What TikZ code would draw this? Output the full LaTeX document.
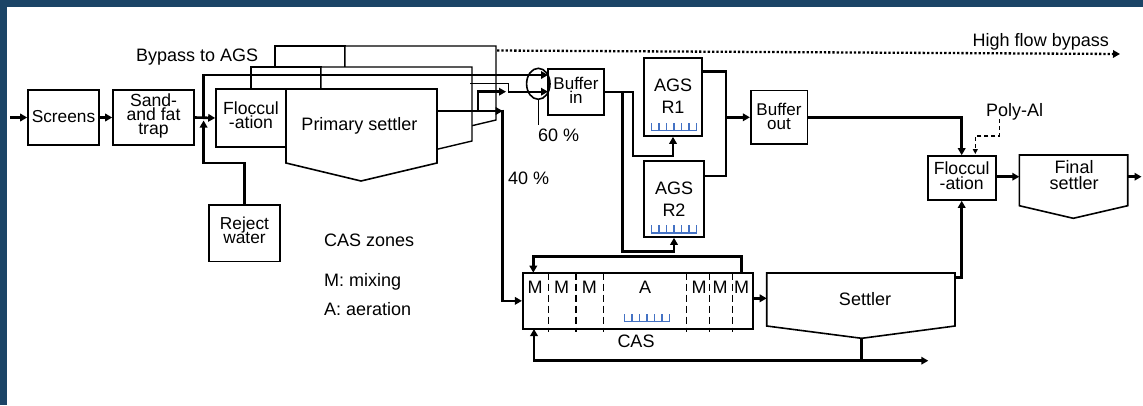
\documentclass[tikz,border=0pt]{standalone}
\usepackage{fontspec}
\setmainfont{Liberation Sans}
\usetikzlibrary{arrows.meta,shapes.geometric}
\definecolor{framecol}{HTML}{1B4466}
\definecolor{aerblue}{HTML}{4472C4}
\newcommand\mybfont[2]{\fontsize{#1}{#2}\selectfont\lineskiplimit=-40pt\relax}
\begin{document}
\begin{tikzpicture}[x=1pt,y=-1pt,
  box/.style={draw, line width=1.6pt, fill=white, inner sep=0pt},
  unit/.style={draw, line width=1.6pt, fill=white},
  back/.style={draw, line width=1.4pt, fill=white},
  flow/.style={line width=2.6pt},
  thinflow/.style={line width=1.6pt},
  lab/.style={font=\fontsize{18}{21}\selectfont, inner sep=0pt},
  blab/.style={inner sep=0pt, align=center},
  aerline/.style={draw=aerblue, line width=1.5pt},
  aer/.pic={\draw[aerline] (0,0) -- (45,0);
            \foreach \k in {0,...,6} \draw[aerline] (\k*7.5,0.7) -- (\k*7.5,-7.5);},
  >={Triangle[length=7pt,width=7.5pt]}
]
\useasboundingbox (0,0) rectangle (1143,405);
\fill[white] (0,0) rectangle (1143,405);
\fill[framecol] (0,0) rectangle (1143,7);
\fill[framecol] (0,0) rectangle (7,405);

% stacked parallel lines (back units)
\begin{scope}[shift={(59,-43)}]
  \draw[back] (216,89) rectangle (286,147);
  \draw[back] (286,89) -- (437,89) -- (437,163) -- (361,181) -- (286,163) -- cycle;
\end{scope}
\begin{scope}[shift={(35,-22)}]
  \draw[back] (216,89) rectangle (286,147);
  \draw[back] (286,89) -- (437,89) -- (437,163) -- (361,181) -- (286,163) -- cycle;
\end{scope}

% front unit
\draw[unit] (286,89) coordinate (psnw) -- (437,89) coordinate (psne) -- (437,163) -- (361,181) coordinate (pss) -- (286,163) -- cycle;
\node[lab, anchor=base] (pstext) at (359.5,130) {Primary settler};

% boxes
\node[box, minimum width=71pt, minimum height=55pt,
  label={[blab, font=\mybfont{17.3}{14}, yshift=1.2pt]center:Screens}] (scr) at (63.5,117.5) {};
\node[box, minimum width=81pt, minimum height=55pt,
  label={[blab, font=\mybfont{17.6}{14}, yshift=1.25pt]center:{Sand-\\and fat\\trap}}] (sand) at (153.5,117.5) {};
\node[box, minimum width=70pt, minimum height=58pt,
  label={[blab, font=\mybfont{17.6}{13.8}, yshift=2.75pt]center:{Floccul\\-ation}}] (floc1) at (251,118) {};
\node[box, minimum width=71pt, minimum height=56.7pt,
  label={[blab, font=\mybfont{17.3}{13.8}, yshift=2.9pt]center:{Reject\\water}}] (rej) at (244.5,233.3) {};
\node[box, minimum width=56pt, minimum height=46pt,
  label={[blab, font=\mybfont{17}{13.8}, yshift=1.75pt]center:{Buffer\\in}}] (bufin) at (576,92) {};
\node[box, minimum width=58pt, minimum height=78pt,
  label={[blab, font=\mybfont{18}{22.4}, yshift=0.6pt]center:{AGS\\R1}}] (agsr1) at (673,97) {};
\node[box, minimum width=60pt, minimum height=76pt,
  label={[blab, font=\mybfont{18}{22.4}]center:{AGS\\R2}}] (agsr2) at (674,199) {};
\node[box, minimum width=56.6pt, minimum height=53.3pt,
  label={[blab, font=\mybfont{17}{14}, yshift=0.7pt]center:{Buffer\\out}}] (bufout) at (779,117.3) {};
\node[box, minimum width=68pt, minimum height=44pt,
  label={[blab, font=\mybfont{17.6}{14.3}, yshift=2.25pt]center:{Floccul\\-ation}}] (floc2) at (961.7,178) {};
\node[box, minimum width=230pt, minimum height=56.3pt] (cas) at (637.7,300.85) {};

% final settler
\draw[unit] (1019.3,155) -- (1127.7,155) -- (1127.7,205.7) -- (1073.3,218.3) -- (1019.3,205.7) -- cycle;
\node[blab, font=\mybfont{18}{16}] (fstext) at (1074,174.9) {Final\\settler};
% settler
\draw[unit] (766.7,273) coordinate (stnw) -- (955,273) coordinate (stne) -- (955,326) -- (861.7,338.3) coordinate (sts) -- (766.7,326) -- cycle;
\node[lab, anchor=base] (sttext) at (865,305) {Settler};

% aeration
\pic at (651.7,130.5) {aer};
\pic at (651.7,232.8) {aer};
\pic at (624.3,321.3) {aer};

% CAS zones
\foreach \x in {548.3,576,603.3,686.7,709.3,732.7}
  \draw[line width=1.5pt, dash pattern=on 7.5pt off 3.5pt] (\x,272.7) -- (\x,331.7);
\foreach \x/\t [count=\i] in {535/M,561.7/M,589.3/M,645/A,699/M,720/M,741.7/M}
  \node[lab, anchor=base] (zone\i) at (\x,293.3) {\t};
\node[lab, anchor=base] (castext) at (636,347.7) {CAS};

% texts
\node[lab, anchor=base west] (byptext) at (136,61) {Bypass to AGS};
\node[lab, anchor=base east] (hfb) at (1109,46.7) {High flow bypass};
\node[lab, anchor=base west] (p60) at (538,141.7) {60 \%};
\node[lab, anchor=base west] (p40) at (508,184) {40 \%};
\node[lab, anchor=base west] (cz) at (324,246) {CAS zones};
\node[lab, anchor=base west] (czm) at (324,286) {M: mixing};
\node[lab, anchor=base west] (cza) at (324,315) {A: aeration};
\node[lab, anchor=base west] (poly) at (986,116) {Poly-Al};

% splitter ellipse
\node[draw, ellipse, line width=1.6pt, minimum width=23.4pt, minimum height=31pt, inner sep=0pt] (ell) at (538.3,83.8) {};
\draw[line width=1.6pt] (ell.south) -- ++(0,24.5);

% flows
\coordinate (in) at (10,117.5);
\draw[flow,->] (in) -- (scr.west);
\draw[flow,->] (scr.east) -- (sand.west);
\draw[flow,->] (sand.east) -- (floc1.west);
\coordinate (j1) at (203.3,117.5);
\coordinate (byp) at (548,75);
\draw[flow,->] (j1) |- (byp);
\draw[flow,->] (rej.north) |- (203.6,163) -- (203.6,120.5);

\draw[thinflow,->] (470,83.3) -- (508.3,83.3) -- (508.3,91.7) -- (548,91.7);
\coordinate (pso) at (437,111);
\coordinate (s40) at (502.7,111);
\draw[flow,->] (pso) -- (s40);
\draw[flow,->] ([yshift=1.3pt]s40) |- (cas.west);
\draw[flow,->] (478,111) |- (506,91.7);

\draw[flow,->] (bufin.east) -| (633,156) -| (agsr1.south);
\draw[flow,->] (622.7,92) |- (674,251.7) -- (agsr2.south);
\draw[flow] ([yshift=25.3pt]agsr1.east) -| (726,176) -- ([yshift=23pt]agsr2.east);
\draw[flow,->] (726,117.3) -- (bufout.west);
\draw[flow,->] (bufout.east) -| (floc2.north);
\draw[line width=1.2pt, dash pattern=on 4pt off 3pt, -{Triangle[length=5pt,width=5pt]}] (999.3,119) |- (975.3,136) -- (975.3,154);
\coordinate (fsw) at (1019.3,176.7);
\draw[flow,->] ([yshift=1.3pt]floc2.east) -- (fsw);
\coordinate (out) at (1141.5,176.7);
\draw[flow,->] (1127.7,176.7) -- (out);

\draw[flow,->] (741.7,272.7) |- (533.3,256.7) -- (533.3,272.7);
\draw[flow,->] (752.7,298.3) -- (766.7,298.3);
\draw[flow,->] (955,277.3) -| (floc2.south);
\coordinate (sludge) at (928.3,360.7);
\draw[flow,->] (sts) |- (sludge);
\draw[flow,->] (861.7,360.7) -| (534,329);

% high flow bypass
\draw[line width=2.3pt, dash pattern=on 2.3pt off 2pt, -{Triangle[length=7pt,width=7.5pt]}] (497,50.5) -- (1120,54);
\end{tikzpicture}
\end{document}
